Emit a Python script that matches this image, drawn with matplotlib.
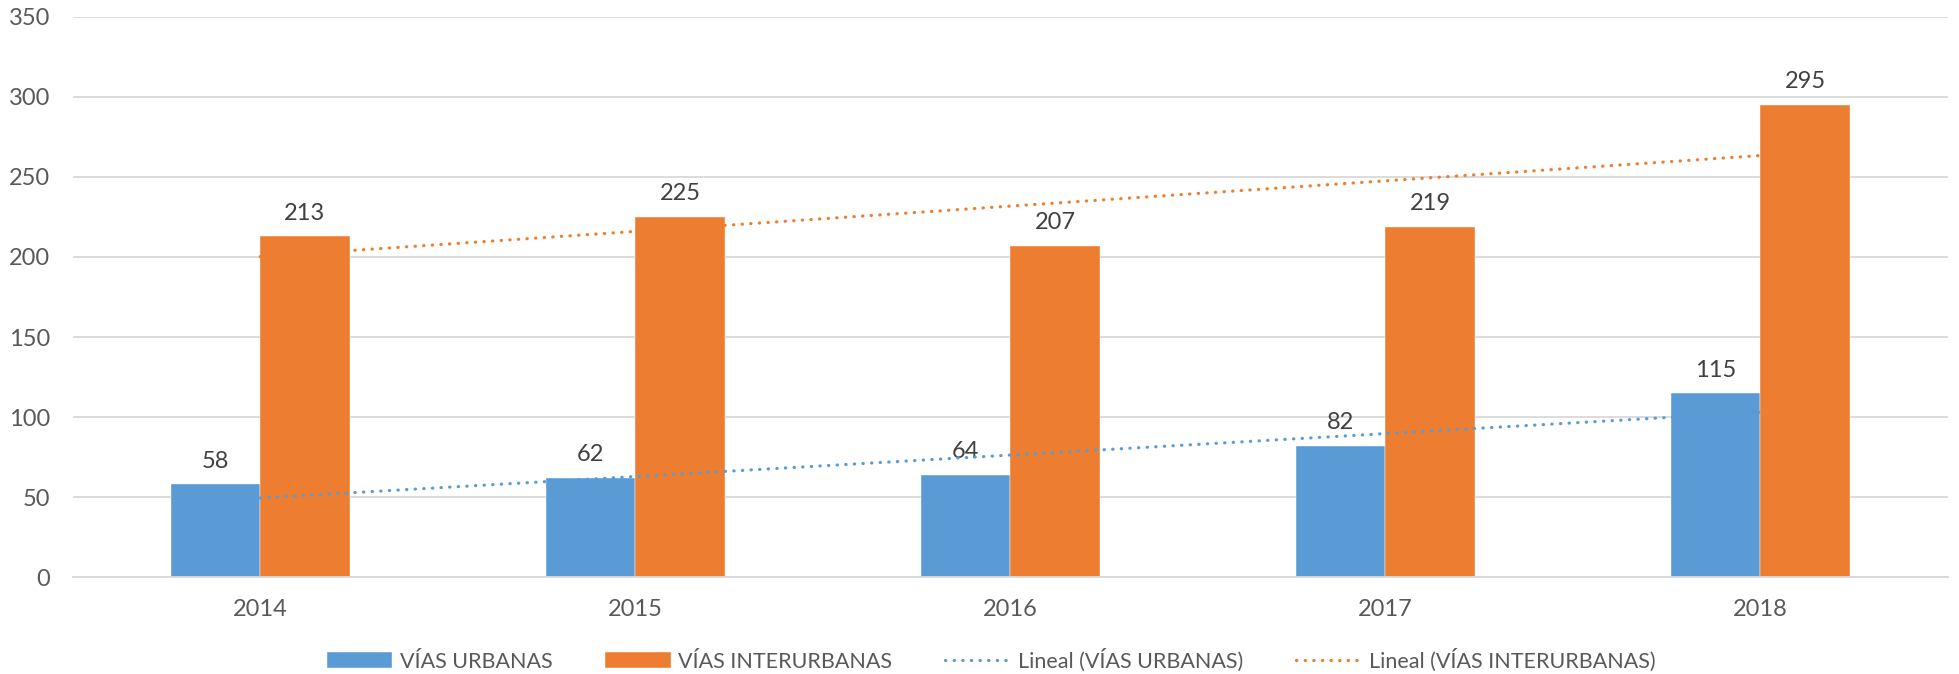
import numpy as np
import matplotlib
matplotlib.use("Agg")
import matplotlib.pyplot as plt

years = ["2014", "2015", "2016", "2017", "2018"]
urbanas = [58, 62, 64, 82, 115]
interurbanas = [213, 225, 207, 219, 295]
yticks = [0, 50, 100, 150, 200, 250, 300, 350]

BLUE = "#5B9BD5"
ORANGE = "#ED7D31"
TICK = "#595959"
LABEL = "#404040"
GRID = "#D9D9D9"

plt.rcParams['font.family'] = ['Lato', 'DejaVu Sans']
FS = 17
LFS = 15.5

fig = plt.figure(figsize=(19.59, 6.74), dpi=100)
ax = fig.add_axes([0.0371, 0.1439, 0.9571, 0.8309])

x = np.arange(len(years))
w = 0.239
b1 = ax.bar(x - w/2, urbanas, w, color=BLUE, label="VÍAS URBANAS", zorder=2,
            edgecolor="white", linewidth=0.3)
b2 = ax.bar(x + w/2, interurbanas, w, color=ORANGE, label="VÍAS INTERURBANAS", zorder=2,
            edgecolor="white", linewidth=0.3)

for xi, v in zip(x - w/2, urbanas):
    ax.annotate(str(v), (xi, v), xytext=(0, 9), textcoords="offset points",
                ha="center", va="bottom", fontsize=FS, color=LABEL)
for xi, v in zip(x + w/2, interurbanas):
    ax.annotate(str(v), (xi, v), xytext=(0, 9), textcoords="offset points",
                ha="center", va="bottom", fontsize=FS, color=LABEL)

# linear trend lines
trend_handles = []
for vals, col, lab in [(urbanas, BLUE, "Lineal (VÍAS URBANAS)"),
                       (interurbanas, ORANGE, "Lineal (VÍAS INTERURBANAS)")]:
    k, c = np.polyfit(x, vals, 1)
    ln, = ax.plot(x, k * x + c, color=col, lw=2.3, linestyle=(0, (0.1, 2.6)),
                  dash_capstyle="round", label=lab, zorder=3)
    trend_handles.append(ln)

ax.set_xlim(-0.5, len(years) - 0.5)
ax.set_ylim(0, 350)
ax.set_yticks(yticks)
ax.set_xticks(x)
ax.set_xticklabels(years)
ax.yaxis.grid(True, color=GRID, lw=1.3, zorder=0)
ax.set_axisbelow(True)
for s in ["top", "right", "left"]:
    ax.spines[s].set_visible(False)
ax.spines["bottom"].set_color(GRID)
ax.spines["bottom"].set_linewidth(1.3)
ax.tick_params(axis="both", length=0, labelsize=FS, labelcolor=TICK, pad=16)

handles = [b1, b2] + trend_handles
labels = [h.get_label() for h in handles]
fig.legend(handles, labels, loc="center", bbox_to_anchor=(0.506, 1 - 660/674),
           ncol=4, frameon=False, fontsize=LFS, labelcolor=TICK,
           handlelength=3.05, handleheight=0.74, handletextpad=0.35, columnspacing=2.45)

fig.savefig("out.png", dpi=100)
